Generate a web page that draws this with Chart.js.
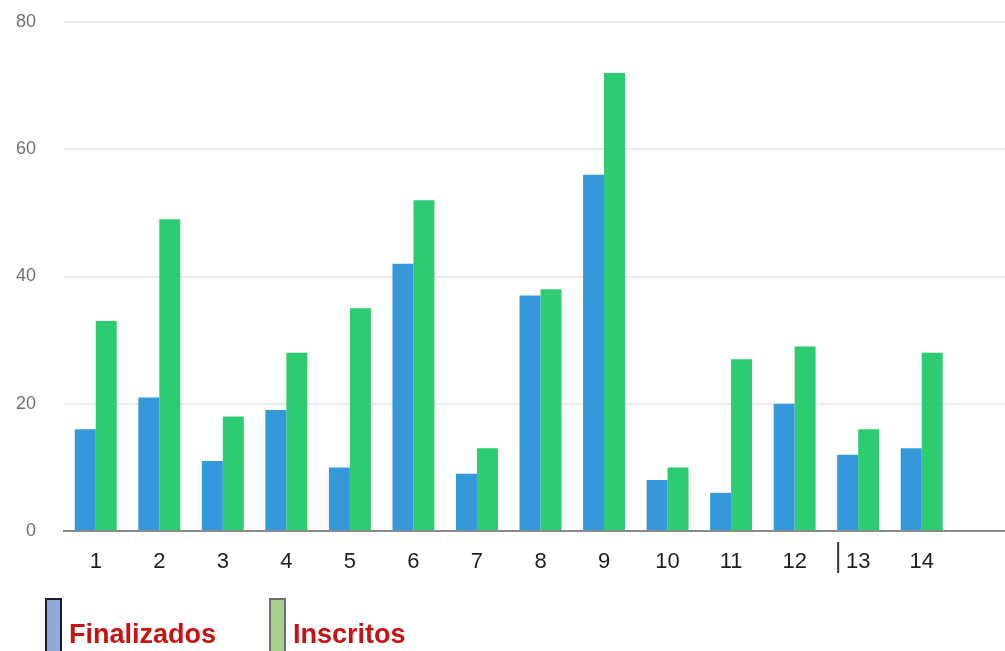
<!DOCTYPE html>
<html>
<head>
<meta charset="utf-8">
<script src="https://cdn.jsdelivr.net/npm/chart.js@4/dist/chart.umd.min.js"></script>
<style>
  html, body { margin: 0; padding: 0; background: #ffffff; overflow: hidden; }
  #wrap { width: 1018px; height: 651px; }
</style>
</head>
<body>
<div id="wrap"><canvas id="c" width="1018" height="651"></canvas></div>
<script>
// Course numbers (last slot left empty so the axis runs past course 14)
const categories = ['1', '2', '3', '4', '5', '6', '7', '8', '9', '10', '11', '12', '13', '14', ''];
const finalizados = [16, 21, 11, 19, 10, 42, 9, 37, 56, 8, 6, 20, 12, 13];
const inscritos   = [33, 49, 18, 28, 35, 52, 13, 38, 72, 10, 27, 29, 16, 28];
const yTicks = [0, 20, 40, 60, 80];
const seriesNames = ['Finalizados', 'Inscritos'];

const FONT = '"Liberation Sans", Arial, Helvetica, sans-serif';

// Legend drawn under the plot: tall outlined swatches with red bold names
const swatchLegend = {
  id: 'swatchLegend',
  afterDraw(chart, args, opts) {
    const ctx = chart.ctx;
    ctx.save();
    chart.data.datasets.forEach((ds, i) => {
      const x = opts.startX[i];
      ctx.fillStyle = opts.fills[i];
      ctx.fillRect(x, opts.top, opts.boxWidth, opts.boxHeight);
      ctx.lineWidth = 2;
      ctx.strokeStyle = opts.strokes[i];
      ctx.strokeRect(x, opts.top, opts.boxWidth, opts.boxHeight);
      ctx.fillStyle = opts.color;
      ctx.font = 'bold ' + opts.fontSize + 'px ' + FONT;
      ctx.textBaseline = 'alphabetic';
      ctx.textAlign = 'left';
      ctx.fillText(ds.label, x + opts.boxWidth + opts.gap, opts.baseline);
    });
    ctx.restore();
  }
};

// Small vertical stroke placed just left of the "13" tick label
const tickMark = {
  id: 'tickMark',
  afterDraw(chart, args, opts) {
    const xs = chart.scales.x;
    const x = xs.getPixelForValue(opts.index) + opts.dx;
    const ctx = chart.ctx;
    ctx.save();
    ctx.strokeStyle = '#333333';
    ctx.lineWidth = 2;
    ctx.beginPath();
    ctx.moveTo(x, xs.top + opts.from);
    ctx.lineTo(x, xs.top + opts.to);
    ctx.stroke();
    ctx.restore();
  }
};

new Chart(document.getElementById('c'), {
  type: 'bar',
  data: {
    labels: categories,
    datasets: [
      {
        label: seriesNames[0],
        data: finalizados,
        backgroundColor: '#3498db',
        borderWidth: 0,
        categoryPercentage: 0.66,
        barPercentage: 1.0
      },
      {
        label: seriesNames[1],
        data: inscritos,
        backgroundColor: '#2ecc71',
        borderWidth: 0,
        categoryPercentage: 0.66,
        barPercentage: 1.0
      }
    ]
  },
  options: {
    responsive: false,
    devicePixelRatio: 1,
    animation: false,
    layout: { padding: { top: 22, right: 1, left: 0, bottom: 0 } },
    plugins: {
      legend: { display: false },
      tooltip: { enabled: false },
      swatchLegend: {
        startX: [46, 270],
        top: 599,
        boxWidth: 15,
        boxHeight: 72,
        gap: 8,
        baseline: 643,
        fontSize: 27,
        color: '#cc1010',
        fills: ['#8eaadb', '#a8d08d'],
        strokes: ['#1c1c2a', '#6f6f6f']
      },
      tickMark: { index: 12, dx: -20, from: 11, to: 42 }
    },
    scales: {
      x: {
        grid: { display: false },
        border: { display: true, color: '#8a8a8a', width: 2 },
        ticks: {
          color: '#1e1e1e',
          font: { family: FONT, size: 22 },
          padding: 10,
          maxRotation: 0,
          autoSkip: false
        },
        afterFit(scale) { scale.height = 120; }
      },
      y: {
        min: 0,
        max: 80,
        afterBuildTicks(scale) { scale.ticks = yTicks.map(v => ({ value: v })); },
        grid: { color: '#ebebeb', lineWidth: 2, drawTicks: false },
        border: { display: false },
        ticks: {
          color: '#707070',
          font: { family: FONT, size: 18 },
          padding: 28
        },
        afterFit(scale) {
          scale.width = 64;
          scale.paddingTop = 0;
          scale.paddingBottom = 0;
        }
      }
    }
  },
  plugins: [swatchLegend, tickMark]
});
</script>
</body>
</html>
